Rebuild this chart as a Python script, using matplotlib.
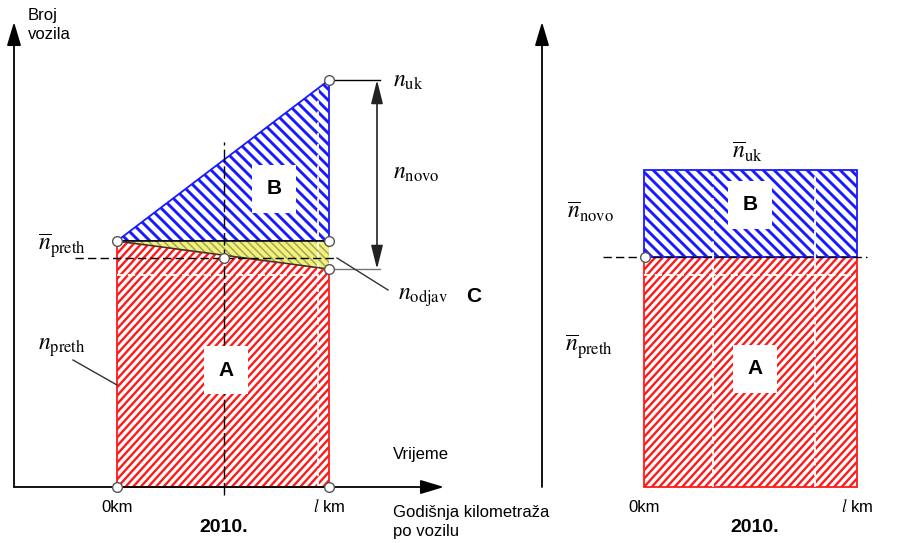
import numpy as np
import matplotlib.pyplot as plt
from matplotlib.patches import Polygon
from matplotlib.collections import LineCollection

plt.rcParams['mathtext.fontset'] = 'stix'
SANS = ['Liberation Sans Narrow', 'Liberation Sans', 'DejaVu Sans']

# left diagram: km positions and vehicle levels (y measured up from the time axis)
km_left = [117, 329]          # 0 km, l km
year_left = 224               # middle of the year 2010
n_preth = 246                 # vehicles at start of year
n_preth_bar = 229             # average previous vehicles
n_after_odjav = 218           # previous vehicles left at year end
n_uk = 407                    # total at year end

# right diagram: averages
km_right = [644, 857]
n_preth_bar_r = 230
n_uk_bar_r = 317

RED = '#ff1a1a'
BLUE = '#1a1aff'


def hatch(ax, verts, color, step, slope, lw, edge=True, zorder=2):
    poly = Polygon(verts, closed=True, facecolor='none', edgecolor='none')
    ax.add_patch(poly)
    xs = [v[0] for v in verts]
    ys = [v[1] for v in verts]
    x0, x1, y0, y1 = min(xs), max(xs), min(ys), max(ys)
    h = y1 - y0 + 4
    segs = []
    for c in np.arange(x0 - h / abs(slope) - step, x1 + h / abs(slope) + step, step):
        ya, yb = y0 - 2, y1 + 2
        segs.append([(c + (ya - y0) / slope, ya), (c + (yb - y0) / slope, yb)])
    lc = LineCollection(segs, colors=color, linewidths=lw, zorder=zorder)
    ax.add_collection(lc)
    lc.set_clip_path(poly)
    if edge:
        ax.add_patch(Polygon(verts, closed=True, facecolor='none', edgecolor=color,
                             lw=1.3, zorder=zorder + 0.1))


def arrow(ax, start, tip, style='-|>,head_length=0.4,head_width=0.12', color='black', lw=1.3):
    ax.annotate('', xy=tip, xytext=start,
                arrowprops=dict(arrowstyle=style, mutation_scale=36, lw=lw, color=color,
                                shrinkA=0, shrinkB=0), zorder=5)


def circle(ax, x, y):
    ax.plot(x, y, 'o', ms=7, mfc='white', mec='#555555', mew=1.0, zorder=8)


def box_label(ax, x, y, s):
    ax.text(x, y, s, fontsize=15, fontweight='bold', family='Liberation Sans',
            ha='center', va='center', zorder=7,
            bbox=dict(boxstyle='square,pad=0.7', fc='white', ec='none'))


fig = plt.figure(figsize=(9.05, 5.43), dpi=100)
ax = fig.add_axes([0, 0, 1, 1])
ax.set_xlim(0, 905)
ax.set_ylim(-56, 487)
ax.axis('off')

x0, x1 = km_left
# ---- left panel areas
hatch(ax, [(x0, 0), (x1, 0), (x1, n_after_odjav), (x0, n_preth)], RED, 7.6, 1.1, 1.7)
ax.add_patch(Polygon([(x0, n_preth), (x1, n_preth), (x1, n_after_odjav)], closed=True,
                     facecolor='#f3f37a', edgecolor='none', zorder=3))
hatch(ax, [(x0, n_preth), (x1, n_preth), (x1, n_after_odjav)], '#a8a860', 7.6, -1.0, 1.2,
      edge=False, zorder=3.2)
hatch(ax, [(x0, n_preth), (x1, n_uk), (x1, n_preth)], BLUE, 11, -1.0, 2.1)
# faint white dashed guides inside hatch
ax.plot([318, 318], [0, 400], color='white', lw=1.3, ls=(0, (4, 2)), zorder=4)
ax.plot([x0, 318], [212, 212], color='white', lw=1.3, ls=(0, (4, 2)), zorder=4)

ax.plot([x0, x1], [n_preth, n_preth], color='black', lw=1.1, zorder=5)
ax.plot([x0, x1], [n_preth, n_after_odjav], color='#333333', lw=1.0, zorder=5)
ax.plot([75, 337], [n_preth_bar, n_preth_bar], color='black', lw=1.0,
        ls=(0, (6, 3)), zorder=5)
ax.plot([year_left, year_left], [-8, 345], color='black', lw=1.0,
        ls=(0, (9, 3)), zorder=5)

# axes
arrow(ax, (14, 0), (14, 465))
arrow(ax, (14, 0), (444, 0))

# markers at levels
ax.plot([x1, 380], [n_uk, n_uk], color='black', lw=1.0, zorder=5)
ax.plot([x1, 380], [n_after_odjav, n_after_odjav], color='#777777', lw=1.0, zorder=5)
arrow(ax, (377, n_after_odjav), (377, n_uk),
      style='<|-|>,head_length=0.4,head_width=0.1', color='#222222', lw=1.2)
ax.plot([337, 388], [n_preth_bar, 197], color='#333333', lw=1.0, zorder=5)
ax.plot([73, x0], [127, 102], color='#333333', lw=1.0, zorder=5)

for px, py in [(x1, n_uk), (x0, n_preth), (x1, n_preth), (year_left, n_preth_bar),
               (x1, n_after_odjav), (x0, 0), (x1, 0)]:
    circle(ax, px, py)

box_label(ax, 274, 298, 'B')
box_label(ax, 226, 117, 'A')

ax.text(28, 479, 'Broj\nvozila', family=SANS, fontsize=12, ha='left', va='top',
        linespacing=1.35)
ax.text(393, 32, 'Vrijeme', family=SANS, fontsize=12, ha='left', va='center')
ax.text(393, -35, 'Godišnja kilometraža\npo vozilu', family=SANS, fontsize=12,
        ha='left', va='center', linespacing=1.3)
ax.text(x0, -20, '0km', family=SANS, fontsize=12, ha='center', va='center')
ax.text(x1, -20, r'$\mathit{l}$ km', family=SANS, fontsize=12, ha='center', va='center')
ax.text(year_left, -40, '2010.', family='Liberation Sans', fontsize=14,
        fontweight='bold', ha='center', va='center')

ax.text(393, 407, r'$n_{\mathrm{uk}}$', fontsize=17, ha='left', va='center')
ax.text(393, 315, r'$n_{\mathrm{novo}}$', fontsize=17, ha='left', va='center')
ax.text(398, 190, r'$n_{\mathrm{odjav}}$', fontsize=17, ha='left', va='center')
ax.text(474, 190, 'C', family='Liberation Sans', fontsize=15, fontweight='bold',
        ha='center', va='center')
ax.text(38, 241, r'$\overline{n}_{\mathrm{preth}}$', fontsize=17, ha='left', va='center')
ax.text(38, 140, r'$n_{\mathrm{preth}}$', fontsize=17, ha='left', va='center')

# ---- right panel
r0, r1 = km_right
hatch(ax, [(r0, 0), (r1, 0), (r1, n_preth_bar_r), (r0, n_preth_bar_r)], RED, 7.6, 1.1, 1.7)
hatch(ax, [(r0, n_preth_bar_r), (r1, n_preth_bar_r), (r1, n_uk_bar_r), (r0, n_uk_bar_r)],
      BLUE, 11, -1.0, 2.1)
for gx in [713, 815]:
    ax.plot([gx, gx], [0, n_uk_bar_r - 4], color='white', lw=1.3, ls=(0, (4, 2)), zorder=4)
ax.plot([r0, r1 - 6], [212, 212], color='white', lw=1.3, ls=(0, (4, 2)), zorder=4)
ax.plot([603, 867], [n_preth_bar_r, n_preth_bar_r], color='black', lw=1.0,
        ls=(0, (6, 3)), zorder=5)

arrow(ax, (542, 0), (542, 465))
arrow(ax, (542, 0), (912, 0))
circle(ax, r0 + 1, n_preth_bar_r)

box_label(ax, 750, 282, 'B')
box_label(ax, 755, 118, 'A')

ax.text(747, 335, r'$\overline{n}_{\mathrm{uk}}$', fontsize=17, ha='center', va='center')
ax.text(567, 275, r'$\overline{n}_{\mathrm{novo}}$', fontsize=17, ha='left', va='center')
ax.text(565, 140, r'$\overline{n}_{\mathrm{preth}}$', fontsize=17, ha='left', va='center')
ax.text(r0, -20, '0km', family=SANS, fontsize=12, ha='center', va='center')
ax.text(r1, -20, r'$\mathit{l}$ km', family=SANS, fontsize=12, ha='center', va='center')
ax.text(755, -40, '2010.', family='Liberation Sans', fontsize=14,
        fontweight='bold', ha='center', va='center')

fig.savefig('out.png', dpi=100)
